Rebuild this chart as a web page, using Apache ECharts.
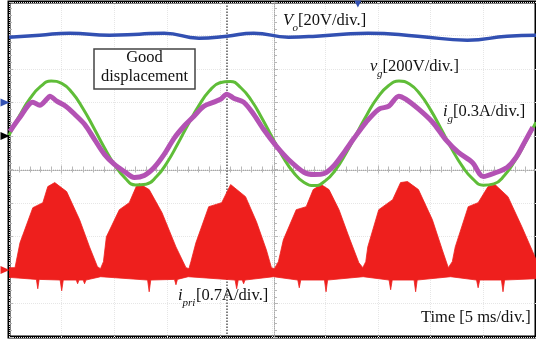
<!DOCTYPE html>
<html>
<head>
<meta charset="utf-8">
<script src="https://cdn.jsdelivr.net/npm/echarts@6/dist/echarts.min.js"></script>
<style>
  html, body { margin: 0; padding: 0; background: #fff; }
  #chart { width: 536px; height: 340px; }
</style>
</head>
<body>
<div id="chart"></div>
<script>
// time in ms (5 ms/div), amplitudes in screen divisions
var voT = [0, 2.92, 5.75, 9.53, 12.36, 14.72, 18.02, 20.66, 23.21, 26.51, 29.15, 31.7, 34.06, 38.77, 43.49, 47.26, 50];
var voV = [3.95, 4.01, 4.07, 4.01, 4.04, 4.07, 3.92, 3.98, 4.07, 3.95, 3.98, 4.04, 4.07, 3.98, 3.86, 3.98, 4.01];

var vgT = [0, 1, 2, 3, 4, 5, 6, 7, 8, 9, 10, 11, 12, 13, 14, 15, 16, 17, 18, 19, 20, 21, 22, 23, 24, 25,
           26, 27, 28, 29, 30, 31, 32, 33, 34, 35, 36, 37, 38, 39, 40, 41, 42, 43, 44, 45, 46, 47, 48, 49, 50];
var vgV = [1.02, 1.61, 2.12, 2.48, 2.64, 2.57, 2.29, 1.83, 1.27, 0.68, 0.15, -0.25, -0.46, -0.44, -0.21, 0.21,
           0.76, 1.35, 1.90, 2.34, 2.59, 2.63, 2.44, 2.06, 1.53, 0.94, 0.37, -0.09, -0.39, -0.48, -0.34, 0.00,
           0.50, 1.08, 1.66, 2.16, 2.50, 2.64, 2.55, 2.25, 1.78, 1.21, 0.62, 0.10, -0.28, -0.47, -0.43, -0.18,
           0.26, 0.81, 1.41];

var igT = [0.09, 1.04, 2.26, 2.92, 3.58, 3.87, 4.53, 5.38, 6.23, 7.17, 8.11, 9.06, 10.0, 10.94, 11.89, 12.83,
           13.77, 14.72, 15.66, 16.6, 17.55, 18.49, 19.43, 20.09, 20.66, 21.32, 22.26, 23.21, 24.15, 25.38,
           26.51, 28.02, 28.96, 29.9, 30.85, 31.79, 32.73, 33.87, 35.09, 36.04, 36.98, 37.64, 38.87, 40.19,
           41.41, 42.64, 43.96, 45.0, 46.22, 47.26, 48.11, 48.96, 49.7];
var igV = [1.14, 1.56, 2.01, 1.92, 2.10, 2.19, 2.04, 1.89, 1.65, 1.35, 0.90, 0.45, 0.15, -0.06, -0.24, -0.18,
           0.06, 0.45, 0.93, 1.29, 1.59, 1.89, 2.01, 2.10, 2.25, 2.13, 2.01, 1.65, 1.20, 0.69,
           0.30, -0.09, -0.15, -0.12, 0.12, 0.51, 0.93, 1.41, 1.80, 1.89, 2.19, 2.10, 1.80, 1.41,
           0.90, 0.51, 0.21, -0.21, -0.09, 0.06, 0.36, 0.84, 1.26];

// i_pri envelope (upper edge of the switching band, then lower edge)
var priTopT = [0, 0.28, 0.57, 1.04, 2.26, 3.21, 3.68, 4.34, 5.47, 6.7, 7.64, 8.39, 8.68,
               8.96, 9.24, 10.47, 11.41, 12.07, 12.35, 13.3, 14.52, 15.84, 16.79, 17.07,
               17.26, 17.73, 18.95, 20.18, 21.03, 22.44, 23.48, 24.42, 24.9, 25.18,
               25.56, 26.03, 27.25, 28.2, 28.86, 29.61, 30.36, 31.31, 32.25, 33.19, 33.57,
               33.85, 34.04, 35.08, 36.4, 37.15, 37.81, 38.85, 40.17, 41.11, 41.68,
               42.06, 42.34, 43.57, 44.51, 45.45, 46.11, 47.34, 48.66, 49.7, 50];
var priTopV = [-2.93, -2.93, -2.93, -2.19, -1.14, -0.99, -0.51, -0.39, -0.66, -1.50, -2.31, -2.90, -2.96,
               -2.75, -2.01, -1.20, -0.99, -0.51, -0.42, -0.60, -1.29, -2.31, -2.93, -2.96,
               -2.75, -2.19, -1.11, -0.99, -0.45, -0.81, -1.56, -2.40, -2.93, -2.96,
               -2.75, -2.10, -1.20, -1.11, -0.60, -0.45, -0.60, -1.20, -2.01, -2.78, -2.93,
               -2.75, -2.31, -1.20, -0.90, -0.39, -0.36, -0.60, -1.50, -2.40, -2.93,
               -2.75, -2.31, -1.11, -0.99, -0.51, -0.45, -0.81, -1.71, -2.46, -2.69];
var priLowT = [0, 2.6, 2.73, 2.86, 4.85, 5.0, 5.15, 6.38, 6.51, 6.64, 7.04, 7.17, 7.3, 8.7,
               13.15, 13.3, 13.45, 15.7, 15.84, 15.98, 17.0, 21.45, 21.6, 21.75, 22.13, 22.26, 22.39, 25.1,
               27.4, 27.54, 27.68, 29.93, 30.08, 30.23, 33.6, 36.06, 36.21, 36.36, 38.43, 38.58, 38.73,
               41.9, 44.36, 44.51, 44.66, 46.72, 46.87, 47.02, 50];
var priLowV = [-3.22, -3.28, -3.56, -3.28, -3.3, -3.62, -3.3, -3.3, -3.41, -3.3, -3.3, -3.41, -3.3, -3.2,
               -3.3, -3.65, -3.3, -3.28, -3.44, -3.28, -3.2, -3.3, -3.56, -3.3, -3.3, -3.41, -3.3, -3.2,
               -3.3, -3.53, -3.3, -3.3, -3.65, -3.3, -3.2, -3.3, -3.59, -3.3, -3.3, -3.65, -3.3,
               -3.2, -3.3, -3.53, -3.3, -3.3, -3.65, -3.3, -3.26];

// channel reference levels (Vo, vg/ig, i_pri) and trigger position
var refLevels = [2, 1, -3];
var triggerT = 20.66;
var triggerMarkT = 33.1;

function pairs(t, v) {
  return t.map(function (x, i) { return [x, v[i]]; });
}

var serif = 'Liberation Serif';
var blue = '#3250b2', green = '#5fbd38', purple = '#b352b4', red = '#ee1f1d';

var chart = echarts.init(document.getElementById('chart'));

var tickStyle = { color: '#b8b8b8', width: 1 };

function xAx(pos, offset, line) {
  return {
    type: 'value', min: 0, max: 50, interval: 5, position: pos, offset: offset,
    axisLine: { show: line, lineStyle: { color: '#a8a8a8', type: 'dotted', width: 1 } },
    axisTick: { show: true, inside: true, length: 4, lineStyle: tickStyle },
    minorTick: { show: true, splitNumber: 5, length: 3, lineStyle: tickStyle },
    axisLabel: { show: false },
    splitLine: { show: pos === 'bottom' && !line, lineStyle: { color: '#e6e6e6', type: 'dotted' } }
  };
}
function yAx(pos, offset, line) {
  return {
    type: 'value', min: -5, max: 5, interval: 1, position: pos, offset: offset,
    axisLine: { show: line, lineStyle: { color: '#a8a8a8', type: 'dotted', width: 1 } },
    axisTick: { show: true, inside: true, length: 4, lineStyle: tickStyle },
    minorTick: { show: true, splitNumber: 5, length: 3, lineStyle: tickStyle },
    axisLabel: { show: false },
    splitLine: { show: offset === 0, lineStyle: { color: '#e6e6e6', type: 'dotted' } }
  };
}

function txt(x, y, s, size, italic, extra) {
  var st = { text: s, fontFamily: serif, fontSize: size, fontStyle: italic ? 'italic' : 'normal', fill: '#111', verticalAlign: 'bottom' };
  if (extra) for (var k in extra) st[k] = extra[k];
  return { type: 'text', x: x, y: y, z: 11, style: st };
}

function label(x, y, main, subs, rest, subX, restX) {
  return {
    type: 'group', x: x, y: y,
    children: [
      txt(0, 0, main, 16.5, true),
      txt(subX, 5, subs, 11, true),
      txt(restX, 0, rest, 16.5, false)
    ]
  };
}

chart.setOption({
  animation: false,
  backgroundColor: '#fff',
  grid: { left: 9, right: -3, top: 2, bottom: 3, show: true, borderColor: '#000', borderWidth: 3, backgroundColor: '#fff' },
  xAxis: [xAx('bottom', 0, false), xAx('top', 0, false), xAx('bottom', -167, true)],
  yAxis: [yAx('left', 0, false), yAx('left', -265, true)],
  series: [
    {
      type: 'line', data: [], z: 1,
      markLine: {
        z: 1, silent: true, symbol: 'none', label: { show: false },
        lineStyle: { color: '#555', type: 'dotted', width: 1.5 },
        data: [{ xAxis: triggerT }]
      }
    },
    {
      type: 'custom', clip: true, z: 2,
      data: [[0, 0]],
      renderItem: function (params, api) {
        var pts = [];
        for (var i = 0; i < priTopT.length; i++) pts.push(api.coord([priTopT[i], priTopV[i]]));
        for (var j = priLowT.length - 1; j >= 0; j--) pts.push(api.coord([priLowT[j], priLowV[j]]));
        return { type: 'polygon', shape: { points: pts }, style: { fill: red, stroke: red, lineWidth: 0.8 } };
      }
    },
    {
      type: 'line', data: pairs(vgT, vgV), smooth: true, showSymbol: false, z: 3,
      lineStyle: { color: green, width: 3 }
    },
    {
      type: 'line', data: pairs(igT, igV), smooth: 0.3, showSymbol: false, z: 4,
      lineStyle: { color: purple, width: 5 }
    },
    {
      type: 'line', data: pairs(voT, voV), smooth: true, showSymbol: false, z: 4,
      lineStyle: { color: blue, width: 3.5 },
      markPoint: {
        silent: true, label: { show: false },
        data: [
          { coord: [0, refLevels[0]], symbol: 'triangle', symbolRotate: -90, symbolSize: [8, 9], symbolOffset: [-4, 0], itemStyle: { color: blue } },
          { coord: [0, refLevels[1]], symbol: 'triangle', symbolRotate: -90, symbolSize: [8, 9], symbolOffset: [-4, 0], itemStyle: { color: '#000' } },
          { coord: [0, refLevels[2]], symbol: 'triangle', symbolRotate: -90, symbolSize: [8, 9], symbolOffset: [-4, 0], itemStyle: { color: red } },
          { coord: [triggerMarkT, 5], symbol: 'triangle', symbolRotate: 180, symbolSize: [7, 7], symbolOffset: [0, 2], itemStyle: { color: blue } }
        ]
      }
    }
  ],
  graphic: [
    label(283, 29, 'V', 'o', '[20V/div.]', 9.5, 15),
    label(370, 75, 'v', 'g', '[200V/div.]', 7, 12.5),
    label(443, 120, 'i', 'g', '[0.3A/div.]', 4.5, 10),
    label(178, 304, 'i', 'pri', '[0.7A/div.]', 4.5, 18),
    txt(421, 326, 'Time [5 ms/div.]', 16.5, false),
    { type: 'rect', z: 10, shape: { x: 94, y: 49, width: 101, height: 40 }, style: { fill: '#fff', stroke: '#444', lineWidth: 1.5 } },
    txt(144.5, 66, 'Good', 16.5, false, { align: 'center' }),
    txt(144.5, 85, 'displacement', 16.5, false, { align: 'center' })
  ]
});
</script>
</body>
</html>
